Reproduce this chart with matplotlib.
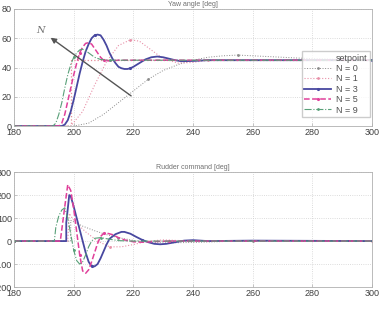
import matplotlib
matplotlib.use("Agg")
import matplotlib.pyplot as plt

# yaw angle [deg]
sp_t = [180, 199, 199, 300]
sp_y = [0, 0, 45, 45]
yaw_n0_t = [180, 200, 205, 210, 215, 220, 225, 230, 235, 240, 245, 250, 255, 260, 270, 280, 290, 300]
yaw_n0_y = [0, 0, 2, 8, 16, 24, 32, 38, 42, 45, 47, 48, 48.5, 48, 47, 46, 45.5, 45]
yaw_n1_t = [180, 199, 203, 207, 211, 215, 219, 222, 226, 230, 235, 240, 245, 300]
yaw_n1_y = [0, 0, 10, 28, 44, 55, 59, 58, 52, 46, 43, 43.5, 45, 45]
yaw_n3_t = [180, 196, 197, 198, 199, 200, 201, 202, 203, 204, 205, 206, 207, 208, 209, 210,
            211, 212, 213, 214, 215, 216, 217, 218, 219, 220, 222, 224, 226, 228, 230, 232,
            234, 236, 240, 245, 300]
yaw_n3_y = [0, 0, 1, 4, 10, 18, 27, 36, 44, 51, 56, 60, 62, 62.5, 62, 59,
            55, 50, 46, 43, 40.5, 39.5, 39, 39, 39.5, 40.5, 43, 45.5, 47, 47.5, 47, 46,
            45, 44.3, 44.5, 45, 45]
yaw_n5_t = [180, 195, 196, 197, 198, 199, 200, 201, 202, 203, 204, 205, 206, 207, 208, 209, 210, 212, 215, 300]
yaw_n5_y = [0, 0, 2, 8, 17, 26, 35, 43, 50, 54, 56.5, 57, 56, 53, 50, 47, 45, 44.5, 45, 45]
yaw_n9_t = [180, 193, 194, 195, 196, 197, 198, 199, 200, 201, 202, 203, 204, 205, 207, 209, 212, 300]
yaw_n9_y = [0, 0, 2, 8, 16, 26, 35, 42, 47, 50, 52, 52.5, 51.5, 50, 47, 45.5, 45, 45]

# rudder command [deg]
rud_n0_t = [180, 199, 199, 203, 207, 211, 215, 220, 225, 230, 240, 250, 260, 300]
rud_n0_y = [0, 0, 90, 65, 45, 28, 15, 3, -5, -8, -6, -2, 0, 0]
rud_n1_t = [180, 198, 198.5, 200, 204, 208, 212, 216, 220, 225, 230, 240, 300]
rud_n1_y = [0, 0, 120, 90, 40, 0, -25, -25, -15, 0, 5, 0, 0]
rud_n3_t = [180, 197.5, 197.5, 198, 198.5, 199, 200, 201, 202, 203, 204, 205, 206, 207, 208,
            209, 210, 211, 212, 214, 216, 217, 219, 221, 223, 225, 227, 229, 231, 234, 237,
            240, 245, 260, 300]
rud_n3_y = [0, 0, 80, 140, 200, 195, 150, 100, 50, 0, -50, -90, -110, -110, -100,
            -75, -45, -15, 10, 30, 40, 40, 32, 18, 5, -5, -12, -14, -12, -5, 2,
            4, 0, 2, 0]
rud_n5_t = [180, 195.5, 196, 197, 198, 199, 200, 201, 202, 203, 204, 205, 206, 207, 208, 209,
            210, 211, 213, 215, 217, 220, 223, 227, 232, 300]
rud_n5_y = [0, 0, 50, 150, 245, 220, 140, 40, -60, -130, -140, -125, -90, -50, -10, 20,
            33, 35, 28, 15, 5, -3, -5, -2, 0, 0]
rud_n9_t = [180, 193.5, 194, 195, 196, 197, 198, 199, 200, 201, 202, 203, 204, 205, 206, 207,
            209, 212, 215, 220, 300]
rud_n9_y = [0, 0, 60, 110, 135, 145, 100, 30, -40, -85, -100, -90, -60, -25, 0, 12,
            15, 8, 2, 0, 0]

x_ticks = [180, 200, 220, 240, 260, 280, 300]
yaw_ticks = [0, 20, 40, 60, 80]
rud_ticks = [-200, -100, 0, 100, 200, 300]

plt.rcParams["font.family"] = ["Liberation Sans", "DejaVu Sans"]

fig = plt.figure(figsize=(3.8, 3.09), dpi=100)
ax1 = fig.add_axes([0.037, 0.592, 0.942, 0.379])
ax2 = fig.add_axes([0.037, 0.071, 0.942, 0.372])

styles = {
    "n0": dict(color="#8c8c8c", ls=":", lw=0.7, marker=".", ms=2, markevery=6),
    "n1": dict(color="#e890a8", ls=":", lw=0.8, marker=".", ms=2, markevery=6),
    "n3": dict(color="#4848a0", ls="-", lw=1.3, marker=".", ms=2.5, markevery=12),
    "n5": dict(color="#e0409a", ls="--", lw=1.1, marker=".", ms=2.5, markevery=8),
    "n9": dict(color="#58a078", ls="-.", lw=0.8, marker=".", ms=2, markevery=8),
}

ax1.plot(sp_t, sp_y, color="#e07080", ls=":", lw=0.9, alpha=0.8, label="setpoint")
ax1.plot(yaw_n0_t, yaw_n0_y, label="N = 0", **styles["n0"])
ax1.plot(yaw_n1_t, yaw_n1_y, label="N = 1", **styles["n1"])
ax1.plot(yaw_n3_t, yaw_n3_y, label="N = 3", **styles["n3"])
ax1.plot(yaw_n5_t, yaw_n5_y, label="N = 5", **styles["n5"])
ax1.plot(yaw_n9_t, yaw_n9_y, label="N = 9", **styles["n9"])

ax2.plot(rud_n0_t, rud_n0_y, **styles["n0"])
ax2.plot(rud_n1_t, rud_n1_y, **styles["n1"])
ax2.plot(rud_n3_t, rud_n3_y, **styles["n3"])
ax2.plot(rud_n5_t, rud_n5_y, **styles["n5"])
ax2.plot(rud_n9_t, rud_n9_y, **styles["n9"])

ax1.annotate("", xy=(191.5, 61.5), xytext=(220, 19.5),
             arrowprops=dict(arrowstyle="-|>", color="#555555", lw=1.0, mutation_scale=8))
ax1.text(189, 65.5, "N", family="DejaVu Serif", style="italic", fontsize=7,
         color="#707070", ha="center", va="center")

for ax, yt, title in ((ax1, yaw_ticks, "Yaw angle [deg]"), (ax2, rud_ticks, "Rudder command [deg]")):
    ax.set_xlim(180, 300)
    ax.set_ylim(yt[0], yt[-1])
    ax.set_xticks(x_ticks)
    ax.set_yticks(yt)
    ax.grid(True, color="#d0d0d0", ls=":", lw=0.6)
    for s in ax.spines.values():
        s.set_color("#b0b0b0")
        s.set_linewidth(0.6)
    ax.tick_params(direction="in", length=2, width=0.5, color="#b0b0b0",
                   labelsize=6.5, labelcolor="#404040", pad=1.5)
    ax.set_title(title, fontsize=5, color="#707070", pad=2)

leg = ax1.legend(loc="lower right", bbox_to_anchor=(1.0, 0.06), fontsize=6.5,
                 frameon=True, fancybox=False, edgecolor="#c0c0c0", borderpad=0.3,
                 labelspacing=0.15, handlelength=3.0, handletextpad=0.5, borderaxespad=0.2)
leg.get_lines()[0].set_alpha(0.0)
for txt in leg.get_texts():
    txt.set_color("#505050")
    txt.set_ha("right")

fig.savefig("out.png", dpi=100)
